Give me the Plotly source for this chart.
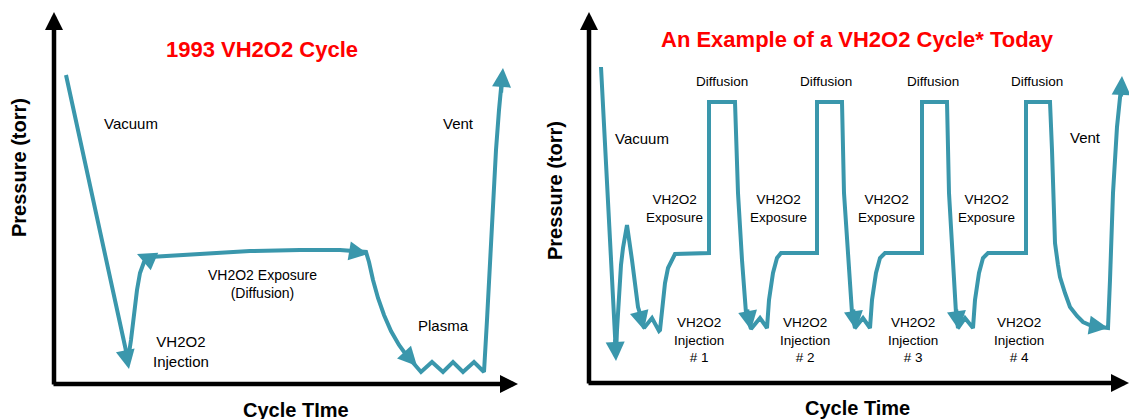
import plotly.graph_objects as go

# ---------------- DATA ----------------
# Left diagram: "1993 VH2O2 Cycle" (cycle time vs pressure, arbitrary units, origin at axes corner)
left_time = [12, 74, 77, 79, 81, 83, 86, 90, 96, 146, 196, 246, 286, 312,
             315, 319, 324, 330, 337, 345, 353, 361,
             367, 378, 389, 399, 409, 420, 430,
             433, 436, 439, 442, 445, 448]
left_pressure = [309, 24, 44, 64, 81, 94, 111, 122, 127, 130, 133, 134, 134, 132,
                 122, 104, 86, 69, 53, 39, 28, 19,
                 12, 22, 12, 22, 12, 22, 12,
                 64, 124, 184, 234, 274, 306]
left_arrow_tip_time = [75, 83, 314, 363, 449]
left_arrow_tip_pressure = [15, 130, 130, 18, 316]
left_arrow_tail_time = [71, 97, 296, 349, 447]
left_arrow_tail_pressure = [35, 124, 133, 33, 290]

# Right diagram: "An Example of a VH2O2 Cycle* Today"
right_time = [12, 27, 28, 30, 32, 34, 36, 38,
              43, 46, 49, 53, 55,
              63, 70, 71, 74, 76, 79, 83, 86, 120, 120, 146,
              149, 153, 157, 162,
              171, 178, 180, 184, 188, 192, 228, 228, 253,
              255, 259, 263, 266,
              274, 281, 283, 287, 291, 296, 333, 333, 358,
              360, 364, 367, 369,
              376, 384, 386, 390, 394, 399, 437, 437, 461,
              463, 465, 466, 469, 471, 476, 481, 488, 494, 503, 517,
              519, 521, 524, 528, 532]
right_pressure = [316, 28, 53, 93, 118, 135, 148, 158,
                  123, 96, 76, 63, 55,
                  65, 52, 53, 80, 100, 115, 124, 129, 130, 281, 281,
                  190, 123, 70, 54,
                  65, 55, 83, 110, 125, 130, 130, 281, 281,
                  190, 123, 70, 55,
                  65, 55, 83, 110, 125, 130, 130, 281, 281,
                  190, 123, 70, 55,
                  65, 55, 83, 110, 125, 130, 130, 281, 281,
                  233, 183, 140, 118, 106, 90, 76, 67, 61, 57, 55,
                  55, 103, 190, 256, 295]
right_arrow_tip_time = [27, 55, 162, 267, 370, 519, 533]
right_arrow_tip_pressure = [22, 53, 53, 53, 53, 55, 307]
right_arrow_tail_time = [26, 50, 158, 264, 367, 500, 532]
right_arrow_tail_pressure = [45, 72, 75, 75, 75, 58, 285]

left_phase_labels = ["Vacuum", "VH2O2 Exposure<br>(Diffusion)", "VH2O2<br>Injection", "Plasma", "Vent"]
right_diffusion_label = "Diffusion"
right_exposure_label = "VH2O2<br>Exposure"
right_injection_labels = ["VH2O2<br>Injection<br># 1", "VH2O2<br>Injection<br># 2",
                          "VH2O2<br>Injection<br># 3", "VH2O2<br>Injection<br># 4"]
left_title = "1993 VH2O2 Cycle"
right_title = "An Example of a VH2O2 Cycle* Today"
y_title = "Pressure (torr)"
left_x_title = "Cycle TIme"
right_x_title = "Cycle Time"

# ---------------- STYLE ----------------
TEAL = "#3a97ac"
FONT = "Liberation Sans, Arial, sans-serif"
W, H = 1129, 419
SPLIT = 540 / W

fig = go.Figure()
fig.add_trace(go.Scatter(x=left_time, y=left_pressure, mode="lines",
                         line=dict(color=TEAL, width=4), xaxis="x", yaxis="y",
                         hoverinfo="skip", showlegend=False))
fig.add_trace(go.Scatter(x=right_time, y=right_pressure, mode="lines",
                         line=dict(color=TEAL, width=4), xaxis="x2", yaxis="y2",
                         hoverinfo="skip", showlegend=False))

ann = []

def arrow(xr, yr, tx, ty, ax, ay, color, width, size):
    ann.append(dict(xref=xr, yref=yr, axref=xr, ayref=yr, x=tx, y=ty, ax=ax, ay=ay,
                    text="", showarrow=True, arrowhead=2, arrowsize=size,
                    arrowwidth=width, arrowcolor=color, standoff=0, startstandoff=0))

def label(xr, yr, x, y, text, size, color="black", bold=False, angle=0):
    if bold:
        text = "<b>" + text + "</b>"
    ann.append(dict(xref=xr, yref=yr, x=x, y=y, text=text, showarrow=False,
                    xanchor="center", yanchor="middle", textangle=angle,
                    font=dict(family=FONT, size=size, color=color)))

# teal arrowheads
for tx, ty, ax, ay in zip(left_arrow_tip_time, left_arrow_tip_pressure,
                          left_arrow_tail_time, left_arrow_tail_pressure):
    arrow("x", "y", tx, ty, ax, ay, TEAL, 4, 0.95)
for tx, ty, ax, ay in zip(right_arrow_tip_time, right_arrow_tip_pressure,
                          right_arrow_tail_time, right_arrow_tail_pressure):
    arrow("x2", "y2", tx, ty, ax, ay, TEAL, 4, 0.95)

# axes with arrows
arrow("x", "y", 0, 372, 0, -2, "black", 4.5, 0.8)
arrow("x", "y", 464, 0, -2, 0, "black", 4.5, 0.8)
arrow("x2", "y2", 0, 371, 0, -2, "black", 4.5, 0.8)
arrow("x2", "y2", 540, 0, -2, 0, "black", 4.5, 0.8)

# left labels
label("x", "y", 77, 261, left_phase_labels[0], 15)
label("x", "y", 208, 100, left_phase_labels[1], 14)
label("x", "y", 127, 33, left_phase_labels[2], 15)
label("x", "y", 389, 59, left_phase_labels[3], 15)
label("x", "y", 404, 261, left_phase_labels[4], 15)
label("x", "y", 208, 335, left_title, 22, color="#ff0000", bold=True)
label("x", "y", -35, 216, y_title, 20, bold=True, angle=-90)
label("x", "y", 242, -26, left_x_title, 20, bold=True)

# right labels
label("x2", "y2", 53, 245, "Vacuum", 15)
label("x2", "y2", 496, 246, "Vent", 15)
for t in [133, 237, 344, 448]:
    label("x2", "y2", t, 302, right_diffusion_label, 13.5)
for t in [85, 189, 297, 397]:
    label("x2", "y2", t, 175, right_exposure_label, 13.5)
for t, txt in zip([110, 216, 324, 430], right_injection_labels):
    label("x2", "y2", t, 43, txt, 13.5)
label("x2", "y2", 268, 344, right_title, 22, color="#ff0000", bold=True)
label("x2", "y2", -34, 192, y_title, 20, bold=True, angle=-90)
label("x2", "y2", 268, -25, right_x_title, 20, bold=True)

axis_common = dict(visible=False, showgrid=False, zeroline=False, fixedrange=True)
fig.update_layout(
    width=W, height=H,
    margin=dict(l=0, r=0, t=0, b=0),
    paper_bgcolor="white", plot_bgcolor="white",
    showlegend=False,
    xaxis=dict(domain=[0, SPLIT], range=[-54, 486], **axis_common),
    yaxis=dict(domain=[0, 1], range=[-35, 384], **axis_common),
    xaxis2=dict(domain=[SPLIT, 1], range=[-49, 540], anchor="y2", **axis_common),
    yaxis2=dict(domain=[0, 1], range=[-36, 383], anchor="x2", **axis_common),
    annotations=ann,
)

fig.write_html("out.html", config={"displayModeBar": False},
               post_script="document.body.style.margin='0px';document.body.style.overflow='hidden';")
